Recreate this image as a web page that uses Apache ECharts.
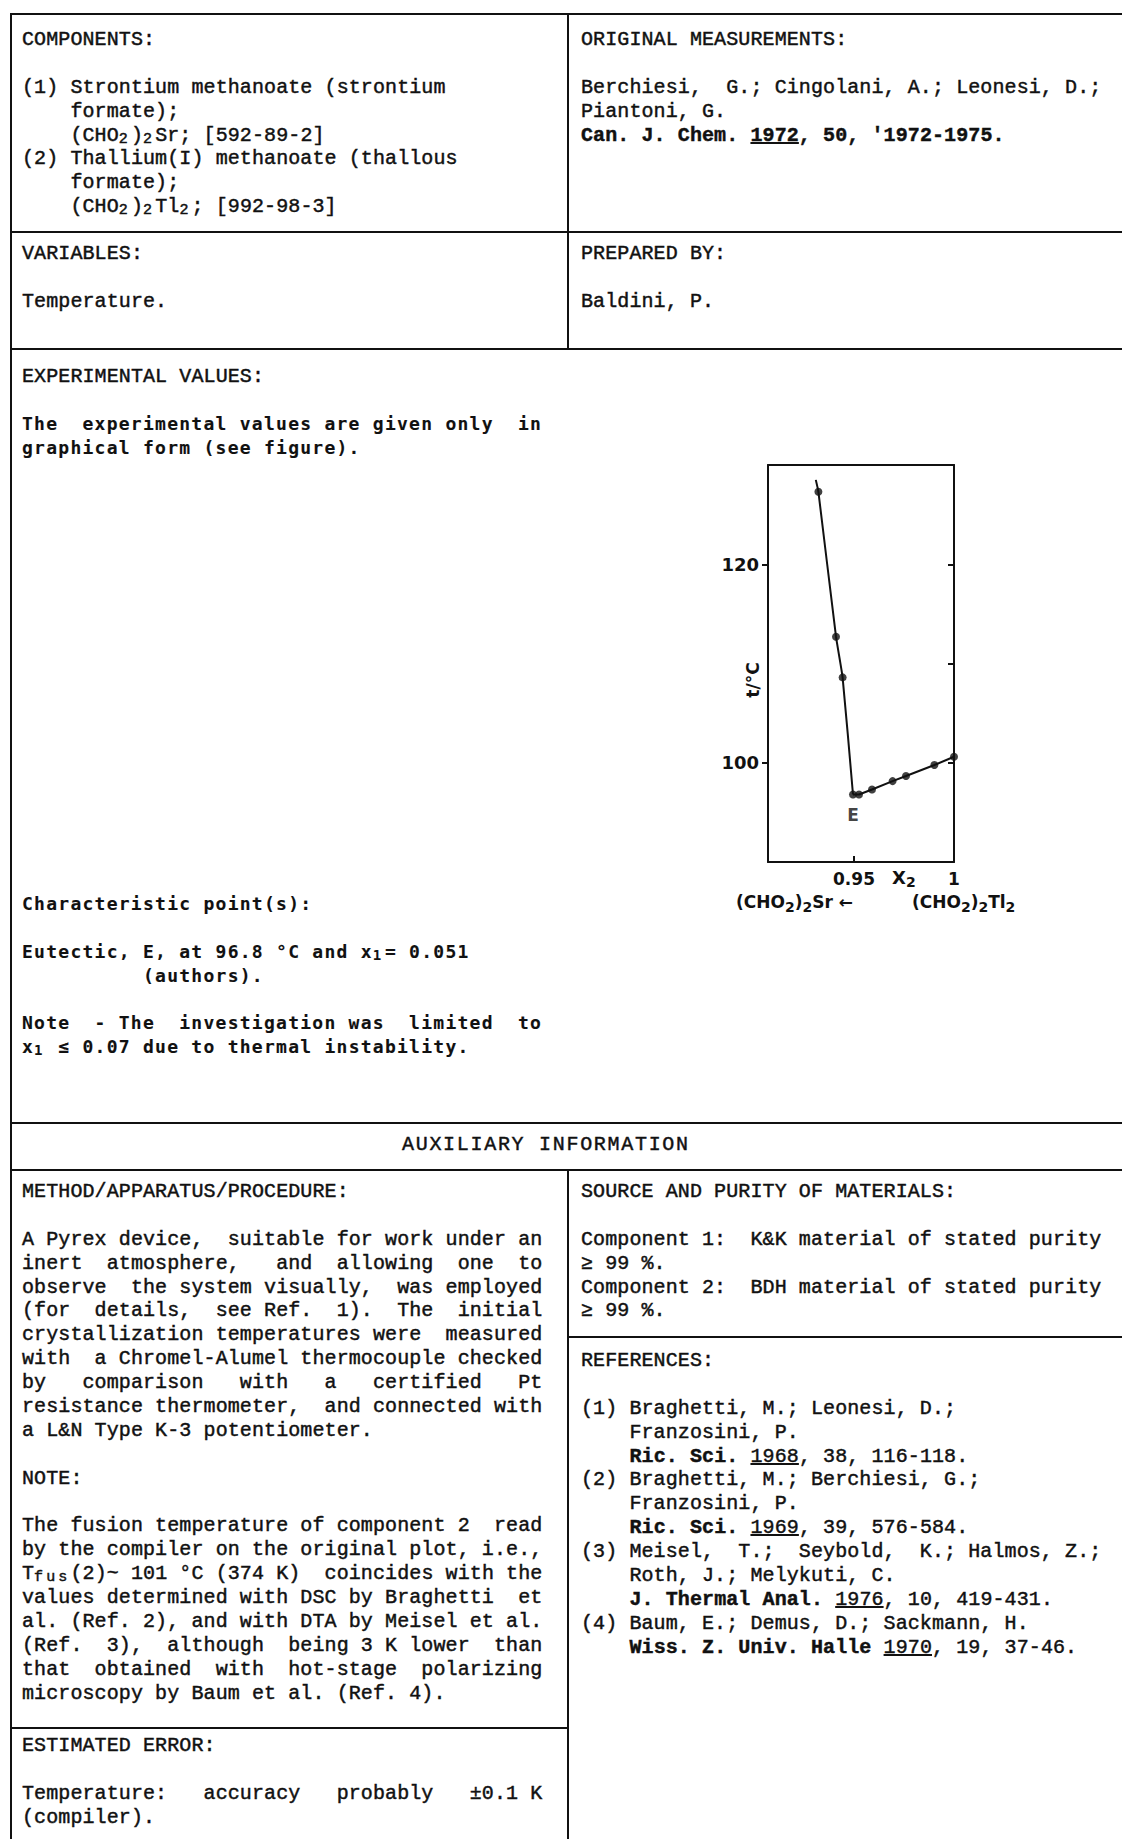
<!DOCTYPE html>
<html><head><meta charset="utf-8">
<script src="https://cdn.jsdelivr.net/npm/echarts@6/dist/echarts.min.js"></script>
<style>
html,body{margin:0;padding:0;background:#fff;}
#page{position:relative;width:1122px;height:1839px;overflow:hidden;background:#fff;}
.t{position:absolute;font-family:"Liberation Mono","DejaVu Sans Mono",monospace;font-size:20px;letter-spacing:0.1px;line-height:23.9px;color:#111;-webkit-text-stroke:0.45px #111;}
.t > div{white-space:pre;height:23.9px;}
.g{font-family:"DejaVu Sans Mono",monospace;font-weight:bold;font-size:18px;letter-spacing:1.26px;-webkit-text-stroke:0.1px #111;}
.b{font-weight:bold;}
.sb{position:relative;top:2px;font-size:15px;letter-spacing:3.1px;}
.g .sb{font-size:14px;letter-spacing:3.65px;}
.hl{position:absolute;background:#111;height:2px;}
.vl{position:absolute;background:#111;width:2px;}
#chart{position:absolute;left:690px;top:440px;width:360px;height:500px;}
</style></head>
<body><div id="page">
<div class="hl" style="left:10px;top:13px;width:1112px"></div>
<div class="hl" style="left:10px;top:231px;width:1112px"></div>
<div class="hl" style="left:10px;top:348px;width:1112px"></div>
<div class="hl" style="left:10px;top:1122px;width:1112px"></div>
<div class="hl" style="left:10px;top:1169px;width:1112px"></div>
<div class="hl" style="left:10px;top:1727px;width:558px"></div>
<div class="hl" style="left:567px;top:1336px;width:555px"></div>
<div class="vl" style="left:10px;top:13px;height:1826px"></div>
<div class="vl" style="left:567px;top:13px;height:336px"></div>
<div class="vl" style="left:567px;top:1169px;height:670px"></div>

<div class="t" style="left:22px;top:28px">
<div>COMPONENTS:</div>
<div></div>
<div>(1) Strontium methanoate (strontium</div>
<div>    formate);</div>
<div>    (CHO<span class="sb">2</span>)<span class="sb">2</span>Sr; [592-89-2]</div>
<div>(2) Thallium(I) methanoate (thallous</div>
<div>    formate);</div>
<div>    (CHO<span class="sb">2</span>)<span class="sb">2</span>Tl<span class="sb">2</span>; [992-98-3]</div>
</div>

<div class="t" style="left:581px;top:28px">
<div>ORIGINAL MEASUREMENTS:</div>
<div></div>
<div>Berchiesi,  G.; Cingolani, A.; Leonesi, D.;</div>
<div>Piantoni, G.</div>
<div class="b">Can. J. Chem. <u>1972</u>, 50, '1972-1975.</div>
</div>

<div class="t" style="left:22px;top:242px">
<div>VARIABLES:</div>
<div></div>
<div>Temperature.</div>
</div>

<div class="t" style="left:581px;top:242px">
<div>PREPARED BY:</div>
<div></div>
<div>Baldini, P.</div>
</div>

<div class="t" style="left:22px;top:365px"><div>EXPERIMENTAL VALUES:</div></div>
<div class="t g" style="left:22px;top:412px">
<div>The  experimental values are given only  in</div>
<div>graphical form (see figure).</div>
</div>

<div class="t g" style="left:22px;top:892px">
<div>Characteristic point(s):</div>
<div></div>
<div>Eutectic, E, at 96.8 °C and x<span class="sb">1</span>= 0.051</div>
<div>          (authors).</div>
<div></div>
<div>Note  - The  investigation was  limited  to</div>
<div>x<span class="sb">1</span> ≤ 0.07 due to thermal instability.</div>
</div>

<div class="t" style="left:402px;top:1133px;letter-spacing:1.7px"><div>AUXILIARY INFORMATION</div></div>

<div class="t" style="left:22px;top:1180px">
<div>METHOD/APPARATUS/PROCEDURE:</div>
<div></div>
<div>A Pyrex device,  suitable for work under an</div>
<div>inert  atmosphere,   and  allowing  one  to</div>
<div>observe  the system visually,  was employed</div>
<div>(for  details,  see Ref.  1).  The  initial</div>
<div>crystallization temperatures were  measured</div>
<div>with  a Chromel-Alumel thermocouple checked</div>
<div>by   comparison   with   a   certified   Pt</div>
<div>resistance thermometer,  and connected with</div>
<div>a L&amp;N Type K-3 potentiometer.</div>
<div></div>
<div>NOTE:</div>
<div></div>
<div>The fusion temperature of component 2  read</div>
<div>by the compiler on the original plot, i.e.,</div>
<div>T<span class="sb">fus</span>(2)~ 101 °C (374 K)  coincides with the</div>
<div>values determined with DSC by Braghetti  et</div>
<div>al. (Ref. 2), and with DTA by Meisel et al.</div>
<div>(Ref.  3),  although  being 3 K lower  than</div>
<div>that  obtained  with  hot-stage  polarizing</div>
<div>microscopy by Baum et al. (Ref. 4).</div>
</div>

<div class="t" style="left:22px;top:1734px">
<div>ESTIMATED ERROR:</div>
<div></div>
<div>Temperature:   accuracy   probably   ±0.1 K</div>
<div>(compiler).</div>
</div>

<div class="t" style="left:581px;top:1180px">
<div>SOURCE AND PURITY OF MATERIALS:</div>
<div></div>
<div>Component 1:  K&amp;K material of stated purity</div>
<div>≥ 99 %.</div>
<div>Component 2:  BDH material of stated purity</div>
<div>≥ 99 %.</div>
</div>

<div class="t" style="left:581px;top:1349px">
<div>REFERENCES:</div>
<div></div>
<div>(1) Braghetti, M.; Leonesi, D.;</div>
<div>    Franzosini, P.</div>
<div>    <span class="b">Ric. Sci.</span> <u>1968</u>, 38, 116-118.</div>
<div>(2) Braghetti, M.; Berchiesi, G.;</div>
<div>    Franzosini, P.</div>
<div>    <span class="b">Ric. Sci.</span> <u>1969</u>, 39, 576-584.</div>
<div>(3) Meisel,  T.;  Seybold,  K.; Halmos, Z.;</div>
<div>    Roth, J.; Melykuti, C.</div>
<div>    <span class="b">J. Thermal Anal.</span> <u>1976</u>, 10, 419-431.</div>
<div>(4) Baum, E.; Demus, D.; Sackmann, H.</div>
<div>    <span class="b">Wiss. Z. Univ. Halle</span> <u>1970</u>, 19, 37-46.</div>
</div>

<div id="chart"></div>
</div>
<script>
// ---- data ----
const xLabelValues = [0.95, 1];
const xTickValues = [0.95];
const yLabelValues = [100, 120];
const yLeftTicks = [100, 120];
const yRightTicks = [100, 110, 120];
// liquidus of (CHO2)2Sr branch (x2, t/°C)
const branchSr = [[0.9309, 128.5], [0.9322, 127.3], [0.941, 112.7], [0.9443, 108.6], [0.9495, 96.8]];
// liquidus of (CHO2)2Tl2 branch
const branchTl = [[0.9495, 96.8], [0.9525, 96.8], [0.959, 97.3], [0.9693, 98.15], [0.976, 98.66], [0.9902, 99.77], [1.0, 100.6]];
// measured points
const measured = [[0.9322, 127.3], [0.941, 112.7], [0.9443, 108.6], [0.9525, 96.8], [0.959, 97.3], [0.9693, 98.15], [0.976, 98.66], [0.9902, 99.77], [1.0, 100.6]];
const eutectic = [[0.9495, 96.8]];

const FF = '"DejaVu Sans", sans-serif';
const INK = '#111';
const chart = echarts.init(document.getElementById('chart'), null, {renderer: 'svg'});
const lineSt = {color: INK, width: 2};
const subRich = {s: {fontSize: 14, fontWeight: 'bold', fontFamily: FF, fill: INK, color: INK, lineHeight: 14, verticalAlign: 'bottom'}};
function label(text, x, y, align, size, extra) {
  return Object.assign({
    type: 'text', x: x, y: y, silent: true,
    style: {text: text, fill: INK, fontFamily: FF, fontWeight: 'bold', fontSize: size, lineHeight: 24,
      align: align, textAlign: align, verticalAlign: 'middle', textVerticalAlign: 'middle', rich: subRich}
  }, extra || {});
}
chart.setOption({
  animation: false,
  grid: {left: 78, top: 25, width: 186, height: 397, outerBoundsMode: 'none'},
  xAxis: [
    {type: 'value', min: 0.907, max: 1, position: 'bottom',
      axisLine: {show: true, onZero: false, lineStyle: lineSt},
      axisTick: {show: true, inside: true, length: 6, customValues: xTickValues, lineStyle: lineSt},
      axisLabel: {show: true, customValues: xLabelValues, margin: 8, color: INK, fontFamily: FF, fontWeight: 'bold', fontSize: 17,
        formatter: v => (Math.abs(v - 1) < 1e-9 ? '1' : v.toFixed(2))},
      splitLine: {show: false}},
    {type: 'value', min: 0.907, max: 1, position: 'top',
      axisLine: {show: true, onZero: false, lineStyle: lineSt},
      axisTick: {show: false}, axisLabel: {show: false}, splitLine: {show: false}}
  ],
  yAxis: [
    {type: 'value', min: 90, max: 130, position: 'left',
      axisLine: {show: true, onZero: false, lineStyle: lineSt},
      axisTick: {show: true, inside: false, length: 6, customValues: yLeftTicks, lineStyle: lineSt},
      axisLabel: {show: true, customValues: yLabelValues, margin: 9, color: INK, fontFamily: FF, fontWeight: 'bold', fontSize: 18},
      splitLine: {show: false}},
    {type: 'value', min: 90, max: 130, position: 'right',
      axisLine: {show: true, onZero: false, lineStyle: lineSt},
      axisTick: {show: true, inside: true, length: 6, customValues: yRightTicks, lineStyle: lineSt},
      axisLabel: {show: false}, splitLine: {show: false}}
  ],
  series: [
    {type: 'line', data: branchSr, symbol: 'none', smooth: 0.15, lineStyle: lineSt, silent: true},
    {type: 'line', data: branchTl, symbol: 'none', lineStyle: lineSt, silent: true},
    {type: 'scatter', data: measured, symbol: 'circle', symbolSize: 8, itemStyle: {color: INK}, silent: true},
    {type: 'scatter', data: eutectic, symbol: 'circle', symbolSize: 8, itemStyle: {color: INK}, silent: true,
      label: {show: true, formatter: 'E', position: 'bottom', distance: 8, color: INK, fontFamily: FF, fontWeight: 'bold', fontSize: 17}}
  ],
  graphic: [
    label('X{s|2}', 202, 437, 'left', 18),
    label('(CHO{s|2}){s|2}Sr ←', 163, 462, 'right', 17),
    label('(CHO{s|2}){s|2}Tl{s|2}', 222, 462, 'left', 17),
    label('t/°C', 63, 240, 'center', 17, {rotation: Math.PI / 2})
  ]
});
</script>
</body></html>
